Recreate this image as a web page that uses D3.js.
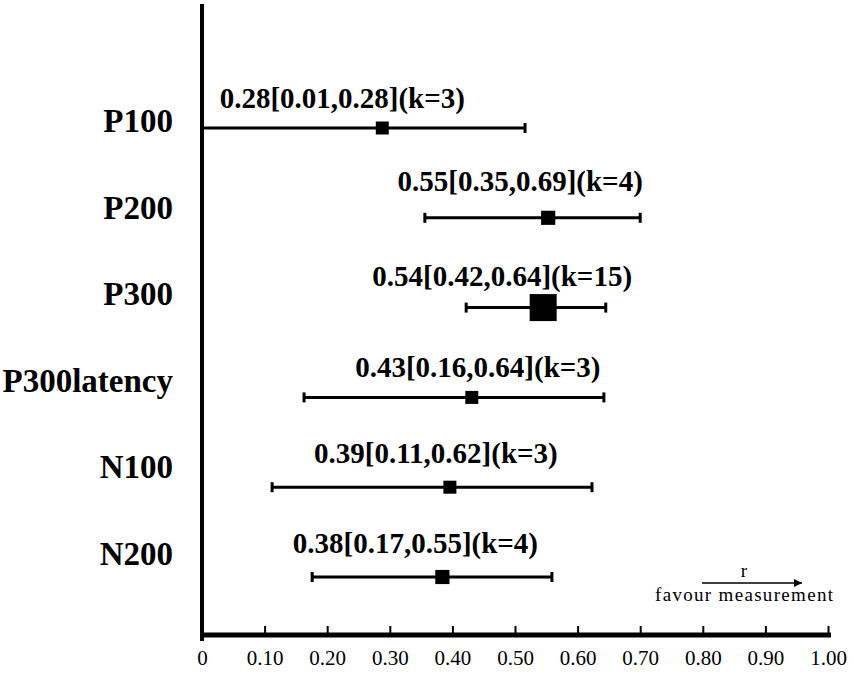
<!DOCTYPE html>
<html>
<head>
<meta charset="utf-8">
<script src="https://cdn.jsdelivr.net/npm/d3@7/dist/d3.min.js"></script>
<style>
  html, body { margin: 0; padding: 0; background: #fff; }
  svg { display: block; }
</style>
</head>
<body>
<svg id="chart" width="854" height="675"></svg>
<script>
// ---- data ----
const categories = ["P100", "P200", "P300", "P300latency", "N100", "N200"];
const estimates  = [0.288, 0.553, 0.545, 0.431, 0.396, 0.384];
const lowers     = [0.0, 0.356, 0.422, 0.163, 0.112, 0.176];
const uppers     = [0.516, 0.70, 0.645, 0.642, 0.623, 0.559];
const kValues    = [3, 4, 15, 3, 3, 4];
const valueLabels = [
  "0.28[0.01,0.28](k=3)",
  "0.55[0.35,0.69](k=4)",
  "0.54[0.42,0.64](k=15)",
  "0.43[0.16,0.64](k=3)",
  "0.39[0.11,0.62](k=3)",
  "0.38[0.17,0.55](k=4)"
];
const xTicks = [0, 0.1, 0.2, 0.3, 0.4, 0.5, 0.6, 0.7, 0.8, 0.9, 1.0];
const xTickLabels = ["0", "0.10", "0.20", "0.30", "0.40", "0.50", "0.60", "0.70", "0.80", "0.90", "1.00"];

// ---- layout ----
const svg = d3.select("#chart");
const serif = "'Liberation Serif', 'DejaVu Serif', serif";
const x = d3.scaleLinear().domain([0, 1]).range([202, 828]);
const y = d3.scalePoint().domain(categories).range([128, 577]);
const yLabel = d3.scalePoint().domain(categories).range([132, 565]);
const size = d3.scaleLinear().domain([3, 15]).range([13, 27]);
const textShift = [-40, -28, -41, 6, -14, -27];
const textDy = [-20, -27, -22, -20, -24, -24];
const axisY = 635;

const rows = categories.map((c, i) => ({
  cat: c, est: estimates[i], lo: lowers[i], hi: uppers[i], k: kValues[i],
  label: valueLabels[i], i
}));

// x axis
const xAxis = d3.axisBottom(x)
  .tickValues(xTicks)
  .tickFormat((d, i) => xTickLabels[i])
  .tickSizeInner(-9)
  .tickSizeOuter(0)
  .tickPadding(15);
const gx = svg.append("g").attr("transform", `translate(0,${axisY})`).call(xAxis);
gx.select(".domain").attr("stroke", "#000").attr("stroke-width", 5)
  .attr("d", `M${x(0)},0H${x(1) + 3}`);
gx.selectAll(".tick line").attr("stroke", "#000").attr("stroke-width", 2);
gx.selectAll(".tick text")
  .attr("fill", "#000")
  .style("font-family", serif)
  .style("font-size", "21px");

// y axis line
svg.append("line")
  .attr("x1", x(0)).attr("x2", x(0))
  .attr("y1", 4).attr("y2", 641)
  .attr("stroke", "#000").attr("stroke-width", 4);

// category labels
svg.selectAll("text.cat").data(rows).enter().append("text")
  .attr("class", "cat")
  .attr("x", 173)
  .attr("y", d => yLabel(d.cat))
  .attr("text-anchor", "end")
  .style("font-family", serif)
  .style("font-weight", "bold")
  .style("font-size", "33px")
  .text(d => d.cat);

// CI lines
const g = svg.append("g");
g.selectAll("line.ci").data(rows).enter().append("line")
  .attr("x1", d => x(d.lo)).attr("x2", d => x(d.hi))
  .attr("y1", d => y(d.cat)).attr("y2", d => y(d.cat))
  .attr("stroke", "#000").attr("stroke-width", 3);
// caps
["lo", "hi"].forEach(key => {
  g.selectAll("line.cap-" + key).data(rows.filter(d => d[key] > 0)).enter().append("line")
    .attr("x1", d => x(d[key])).attr("x2", d => x(d[key]))
    .attr("y1", d => y(d.cat) - 5).attr("y2", d => y(d.cat) + 5)
    .attr("stroke", "#000").attr("stroke-width", 3);
});
// markers
g.selectAll("rect.pt").data(rows).enter().append("rect")
  .attr("x", d => x(d.est) - size(d.k) / 2)
  .attr("y", d => y(d.cat) - size(d.k) / 2)
  .attr("width", d => size(d.k))
  .attr("height", d => size(d.k))
  .attr("fill", "#000");

// value labels
svg.selectAll("text.val").data(rows).enter().append("text")
  .attr("class", "val")
  .attr("x", d => x(d.est) + textShift[d.i])
  .attr("y", d => y(d.cat) + textDy[d.i])
  .attr("text-anchor", "middle")
  .style("font-family", serif)
  .style("font-weight", "bold")
  .style("font-size", "29px")
  .text(d => d.label);

// arrow annotation
const defs = svg.append("defs");
defs.append("marker").attr("id", "arrow")
  .attr("viewBox", "0 0 10 10").attr("refX", 10).attr("refY", 5)
  .attr("markerWidth", 12).attr("markerHeight", 8)
  .attr("markerUnits", "userSpaceOnUse")
  .attr("orient", "auto")
  .append("path").attr("d", "M0,0L10,5L0,10Z").attr("fill", "#000");
svg.append("line")
  .attr("x1", 702).attr("x2", 802)
  .attr("y1", 583).attr("y2", 583)
  .attr("stroke", "#000").attr("stroke-width", 1.5)
  .attr("marker-end", "url(#arrow)");
svg.append("text")
  .attr("x", 744).attr("y", 577)
  .attr("text-anchor", "middle")
  .style("font-family", serif).style("font-size", "19px")
  .text("r");
svg.append("text")
  .attr("x", 744).attr("y", 601)
  .attr("text-anchor", "middle")
  .style("font-family", serif).style("font-size", "19px")
  .attr("textLength", 178)
  .text("favour measurement");
</script>
</body>
</html>
